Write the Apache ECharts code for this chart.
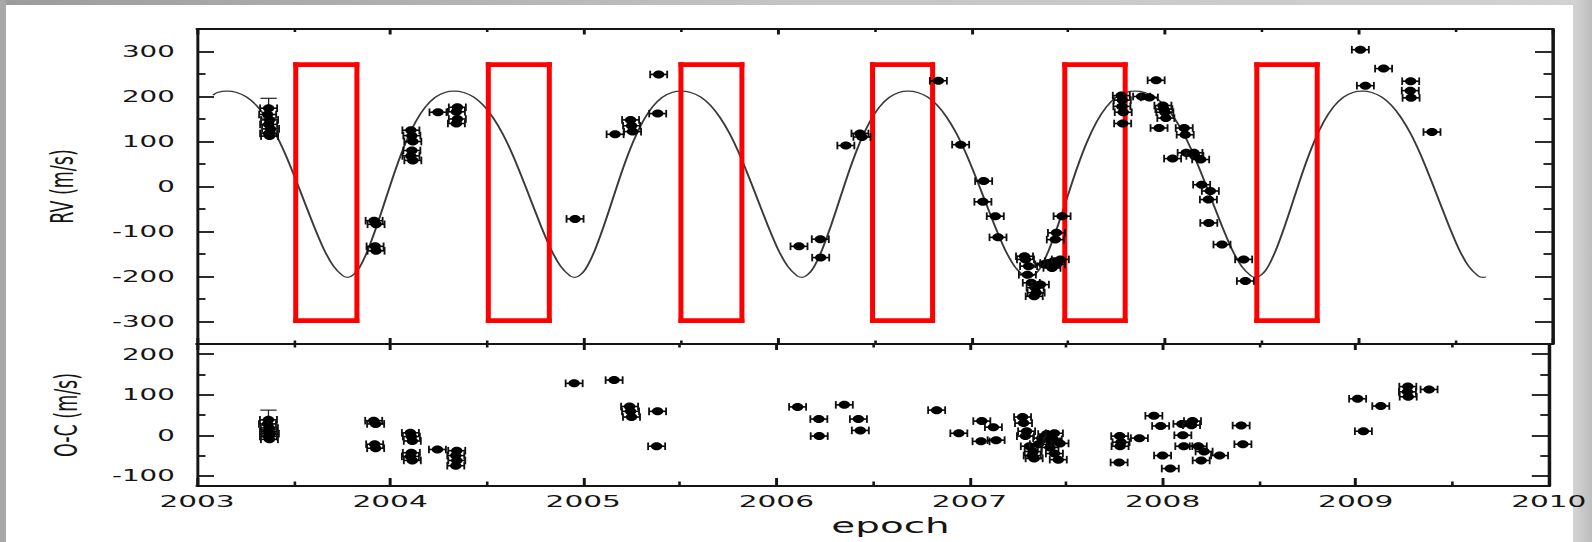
<!DOCTYPE html>
<html><head><meta charset="utf-8">
<script src="https://cdn.jsdelivr.net/npm/echarts@6/dist/echarts.min.js"></script>
<style>
html,body{margin:0;padding:0;background:#fff;overflow:hidden;}
#wrap{position:relative;width:1592px;height:542px;overflow:hidden;background:#fff;}
#chart{position:absolute;left:0;top:0;width:861px;height:542px;transform:scaleX(1.849);transform-origin:0 0;}
.band{position:absolute;}
</style></head><body>
<div id="wrap">
<div class="band" style="left:0;top:0;width:1592px;height:5px;background:linear-gradient(to right,#9c9c9c,#c4c4c4 50%,#d2d2d2)"></div>
<div class="band" style="left:0;top:0;width:6px;height:542px;background:#a8a8a8"></div>
<div class="band" style="left:1573px;top:0;width:19px;height:542px;background:linear-gradient(to right,#d4d4d4,#bdbdbd)"></div>
<div id="chart"></div>
</div>
<script>
// ---------- data ----------
const epochTicks = [2003, 2004, 2005, 2006, 2007, 2008, 2009, 2010];
const rvTicks = [-300, -200, -100, 0, 100, 200, 300];
const rvMinorTicks = [-250, -150, -50, 50, 150, 250];
const ocTicks = [-100, 0, 100, 200];
const ocMinorTicks = [-50, 50, 150];

// fitted orbit curve
const curveEpoch = [2003.083, 2003.105,
 2003.155,2003.205,2003.255,2003.305,2003.355,2003.405,2003.455,2003.505,2003.555,2003.605,2003.655,2003.705,2003.755,2003.780,2003.830,2003.880,2003.930,2003.980,2004.030,2004.080,2004.130,2004.180,2004.230,2004.280,
 2004.328,2004.378,2004.428,2004.478,2004.528,2004.578,2004.628,2004.678,2004.728,2004.778,2004.828,2004.878,2004.928,2004.953,2005.003,2005.053,2005.103,2005.153,2005.203,2005.253,2005.303,2005.353,2005.403,2005.453,
 2005.501,2005.551,2005.601,2005.651,2005.701,2005.751,2005.801,2005.851,2005.901,2005.951,2006.001,2006.051,2006.101,2006.126,2006.176,2006.226,2006.276,2006.326,2006.376,2006.426,2006.476,2006.526,2006.576,2006.626,
 2006.673,2006.723,2006.773,2006.823,2006.873,2006.923,2006.973,2007.023,2007.073,2007.123,2007.173,2007.223,2007.273,2007.298,2007.348,2007.398,2007.448,2007.498,2007.548,2007.598,2007.648,2007.698,2007.748,2007.798,
 2007.846,2007.896,2007.946,2007.996,2008.046,2008.096,2008.146,2008.196,2008.246,2008.296,2008.346,2008.396,2008.446,2008.471,2008.521,2008.571,2008.621,2008.671,2008.721,2008.771,2008.821,2008.871,2008.921,2008.971,
 2009.019,2009.069,2009.119,2009.169,2009.219,2009.269,2009.319,2009.369,2009.419,2009.469,2009.519,2009.569,2009.619,2009.644,2009.660];
const curveValue = [203, 209,
 212,209,199,181,154,118,73,21,-34,-89,-139,-177,-199,-202,-186,-144,-86,-21,43,99,144,177,198,209,
 212,209,199,181,154,118,73,21,-34,-89,-139,-177,-199,-202,-186,-144,-86,-21,43,99,144,177,198,209,
 212,209,199,181,154,118,73,21,-34,-89,-139,-177,-199,-202,-186,-144,-86,-21,43,99,144,177,198,209,
 212,209,199,181,154,118,73,21,-34,-89,-139,-177,-199,-202,-186,-144,-86,-21,43,99,144,177,198,209,
 212,209,199,181,154,118,73,21,-34,-89,-139,-177,-199,-202,-186,-144,-86,-21,43,99,144,177,198,209,
 212,209,199,181,154,118,73,21,-34,-89,-139,-177,-199,-202,-201];

const rvEpoch = [2003.370,2003.365,2003.375,2003.370,2003.380,2003.370,2003.375,
 2003.915,2003.925,2003.920,2003.925,
 2004.105,2004.110,2004.115,2004.110,2004.105,2004.115,
 2004.245,2004.345,2004.340,2004.345,2004.340,
 2004.953,2005.160,2005.240,2005.245,2005.250,2005.385,2005.380,
 2006.110,2006.220,2006.222,2006.352,2006.425,2006.435,2006.830,2006.945,
 2007.064,2007.060,2007.124,2007.138,
 2007.275,2007.280,2007.296,2007.290,2007.310,2007.330,2007.335,2007.325,2007.357,2007.374,2007.400,2007.417,2007.425,2007.440,2007.460,2007.434,2007.440,2007.469,
 2007.775,2007.780,2007.778,2007.785,2007.782,
 2007.880,2007.920,2007.955,2007.990,2007.995,2008.000,2008.005,2007.970,2008.040,
 2008.100,2008.105,2008.110,2008.150,2008.155,2008.185,2008.190,2008.235,2008.225,2008.227,2008.295,2008.407,2008.416,
 2009.010,2009.036,2009.130,2009.270,2009.268,2009.272,2009.380];
const rvValue = [174,160,148,138,128,118,112,
 -76,-84,-133,-143,
 125,113,100,80,68,58,
 165,176,166,150,140,
 -72,116,148,135,122,249,162,
 -133,-117,-158,91,118,110,235,93,
 12,-34,-66,-113,
 -155,-162,-177,-196,-214,-225,-236,-244,-218,-173,-170,-181,-166,-173,-162,-118,-103,-66,
 202,192,178,165,140,
 200,198,236,180,172,165,152,130,62,
 130,115,75,75,68,60,4,-10,-29,-81,-129,-162,-210,
 304,224,262,234,213,197,121];

const ocEpoch = [2003.370,2003.365,2003.375,2003.370,2003.380,2003.370,2003.375,
 2003.915,2003.925,2003.920,2003.925,
 2004.105,2004.110,2004.115,2004.110,2004.105,2004.115,
 2004.245,2004.345,2004.340,2004.345,2004.340,
 2004.953,2005.160,2005.240,2005.245,2005.250,2005.385,2005.380,
 2006.110,2006.220,2006.222,2006.352,2006.425,2006.435,2006.830,2006.945,
 2007.064,2007.060,2007.124,2007.138,
 2007.275,2007.280,2007.296,2007.290,2007.310,2007.330,2007.335,2007.325,2007.357,2007.374,2007.400,2007.417,2007.425,2007.440,2007.460,2007.434,2007.440,2007.469,
 2007.775,2007.780,2007.778,2007.785,
 2007.880,2007.955,2007.990,2008.000,2008.040,
 2008.100,2008.105,2008.110,2008.150,2008.155,2008.185,2008.200,2008.215,2008.295,2008.407,2008.416,
 2009.010,2009.040,2009.130,2009.270,2009.268,2009.272,2009.380];
const ocValue = [38,28,18,10,4,-3,-10,
 36,28,-22,-32,
 6,-3,-14,-43,-52,-62,
 -35,-38,-50,-62,-75,
 128,136,71,59,45,59,-27,
 70,40,-2,75,40,12,62,5,
 35,-15,20,-12,
 45,30,10,-2,-27,-40,-57,-50,-22,-7,3,-30,-15,-45,-60,-10,5,-20,
 -67,-27,-2,-17,
 -7,48,23,-50,-82,
 28,0,-27,25,35,-27,-62,-40,-50,24,-22,
 90,10,72,120,107,95,113];

// points drawn with a vertical error bar
const rvBarEpoch = [2003.370]; const rvBarValue = [174]; const rvBarErr = [22];
const ocBarEpoch = [2003.370]; const ocBarValue = [38]; const ocBarErr = [24];

// red boxes: epoch start, epoch end, RV bottom, RV top
const boxStart = [2003.51, 2004.505, 2005.50, 2006.49, 2007.483, 2008.475];
const boxEnd   = [2003.826, 2004.82, 2005.815, 2006.80, 2007.795, 2008.787];
const boxBottom = -298, boxTop = 271;

// ---------- chart ----------
const S = 1.849;           // horizontal stretch of the figure
const FONT = 'DejaVu Sans';
const INK = '#151515';
const chart = echarts.init(document.getElementById('chart'), null, {renderer: 'svg'});

function yAxes(gridIndex, min, max, major, minor, name, nameGap) {
  const base = {type: 'value', gridIndex, min, max, splitLine: {show: false}, minorSplitLine: {show: false}};
  const tickStyle = {color: INK, width: 1.8};
  const lineStyle = {color: INK, width: 1.6};
  return [
    Object.assign({}, base, {position: 'left', name, nameLocation: 'middle', nameGap,
      nameTextStyle: {fontFamily: FONT, fontSize: 17.5, color: INK},
      axisLine: {show: true, onZero: false, lineStyle},
      axisTick: {show: true, inside: true, length: 9.2, customValues: major, lineStyle: tickStyle},
      axisLabel: {show: true, customValues: major, margin: 12, fontFamily: FONT, fontSize: 15, color: INK}}),
    Object.assign({}, base, {position: 'left', axisLine: {show: false},
      axisTick: {show: true, inside: true, length: 4.6, customValues: minor, lineStyle: tickStyle},
      axisLabel: {show: false}}),
    Object.assign({}, base, {position: 'right', axisLine: {show: true, onZero: false, lineStyle: {color: INK, width: 1.9}},
      axisTick: {show: true, inside: true, length: 9.2, customValues: major, lineStyle: tickStyle},
      axisLabel: {show: false}}),
    Object.assign({}, base, {position: 'right', axisLine: {show: false},
      axisTick: {show: true, inside: true, length: 4.6, customValues: minor, lineStyle: tickStyle},
      axisLabel: {show: false}})
  ];
}
function xAxis(gridIndex, position, len, minorLen, withLabels) {
  const ax = {type: 'value', gridIndex, position, min: 2003, max: 2010, interval: 1,
    splitLine: {show: false}, minorSplitLine: {show: false},
    axisLine: {show: true, onZero: false, lineStyle: {color: INK, width: 1.8}},
    axisTick: {show: true, inside: true, length: len, lineStyle: {color: INK, width: 1.6}},
    minorTick: {show: true, splitNumber: 2, length: minorLen, lineStyle: {color: INK, width: 1.4}},
    axisLabel: {show: withLabels, margin: 8, fontFamily: FONT, fontSize: 16, color: INK,
      customValues: epochTicks, formatter: v => String(v)}};
  if (withLabels) {
    ax.name = 'epoch'; ax.nameLocation = 'middle'; ax.nameGap = 29;
    ax.nameTextStyle = {fontFamily: FONT, fontSize: 21, color: INK, padding: [0, 0, 0, 19]};
  }
  return ax;
}

function renderPoint(params, api) {
  const p = api.coord([api.value(0), api.value(1)]);
  const hw = 4.6, ch = 3.8;
  return {type: 'group', children: [
    {type: 'line', shape: {x1: p[0] - hw, y1: p[1], x2: p[0] + hw, y2: p[1]}, style: {stroke: '#000', lineWidth: 1.6}},
    {type: 'line', shape: {x1: p[0] - hw, y1: p[1] - ch, x2: p[0] - hw, y2: p[1] + ch}, style: {stroke: '#111', lineWidth: 1.0}},
    {type: 'line', shape: {x1: p[0] + hw, y1: p[1] - ch, x2: p[0] + hw, y2: p[1] + ch}, style: {stroke: '#111', lineWidth: 1.0}},
    {type: 'ellipse', shape: {cx: p[0], cy: p[1], rx: 3.1, ry: 4}, style: {fill: '#000'}}
  ]};
}
function renderVBar(params, api) {
  const x = api.value(0), y = api.value(1), e = api.value(2);
  const t = api.coord([x, y + e]), b = api.coord([x, y - e]);
  const cw = 4.4;
  return {type: 'group', children: [
    {type: 'line', shape: {x1: t[0], y1: t[1], x2: b[0], y2: b[1]}, style: {stroke: '#222', lineWidth: 0.7}},
    {type: 'line', shape: {x1: t[0] - cw, y1: t[1], x2: t[0] + cw, y2: t[1]}, style: {stroke: '#222', lineWidth: 1.2}},
    {type: 'line', shape: {x1: b[0] - cw, y1: b[1], x2: b[0] + cw, y2: b[1]}, style: {stroke: '#222', lineWidth: 1.2}}
  ]};
}
function renderBox(params, api) {
  const a = api.coord([api.value(0), api.value(3)]);
  const b = api.coord([api.value(1), api.value(2)]);
  const vw = 5 / S, hh = 4.7, st = {fill: '#ff0000'};
  const w = b[0] - a[0], h = b[1] - a[1];
  return {type: 'group', children: [
    {type: 'rect', shape: {x: a[0] - vw / 2, y: a[1] - hh / 2, width: w + vw, height: hh}, style: st},
    {type: 'rect', shape: {x: a[0] - vw / 2, y: b[1] - hh / 2, width: w + vw, height: hh}, style: st},
    {type: 'rect', shape: {x: a[0] - vw / 2, y: a[1] - hh / 2, width: vw, height: h + hh}, style: st},
    {type: 'rect', shape: {x: b[0] - vw / 2, y: a[1] - hh / 2, width: vw, height: h + hh}, style: st}
  ]};
}

const W = 861;
const gl = 197 / S, gr = W - 1552 / S;
const option = {
  animation: false,
  backgroundColor: 'transparent',
  grid: [
    {left: gl, right: gr, top: 29, height: 315},
    {left: gl, right: gr, top: 344, height: 142}
  ],
  xAxis: [
    xAxis(0, 'bottom', 6, 3.5, false),
    xAxis(0, 'top', 5.5, 3, false),
    xAxis(1, 'top', 6, 3.5, false),
    xAxis(1, 'bottom', 8, 4.5, true)
  ],
  yAxis: [].concat(
    yAxes(0, -350, 350, rvTicks, rvMinorTicks, 'RV (m/s)', 64),
    yAxes(1, -125, 225, ocTicks, ocMinorTicks, 'O-C (m/s)', 62)
  ),
  series: [
    {type: 'line', xAxisIndex: 0, yAxisIndex: 0, z: 2, showSymbol: false, smooth: 0.3,
      lineStyle: {color: '#3a3a3a', width: 1.1},
      data: curveEpoch.map((t, i) => [t, curveValue[i]])},
    {type: 'custom', xAxisIndex: 0, yAxisIndex: 0, z: 3, clip: false, renderItem: renderBox,
      data: boxStart.map((t, i) => [t, boxEnd[i], boxBottom, boxTop])},
    {type: 'custom', xAxisIndex: 0, yAxisIndex: 0, z: 4, renderItem: renderVBar,
      data: rvBarEpoch.map((t, i) => [t, rvBarValue[i], rvBarErr[i]])},
    {type: 'custom', xAxisIndex: 0, yAxisIndex: 0, z: 5, renderItem: renderPoint,
      data: rvEpoch.map((t, i) => [t, rvValue[i]])},
    {type: 'custom', xAxisIndex: 3, yAxisIndex: 4, z: 4, renderItem: renderVBar,
      data: ocBarEpoch.map((t, i) => [t, ocBarValue[i], ocBarErr[i]])},
    {type: 'custom', xAxisIndex: 3, yAxisIndex: 4, z: 5, renderItem: renderPoint,
      data: ocEpoch.map((t, i) => [t, ocValue[i]])}
  ]
};
chart.setOption(option);
</script>
</body></html>
